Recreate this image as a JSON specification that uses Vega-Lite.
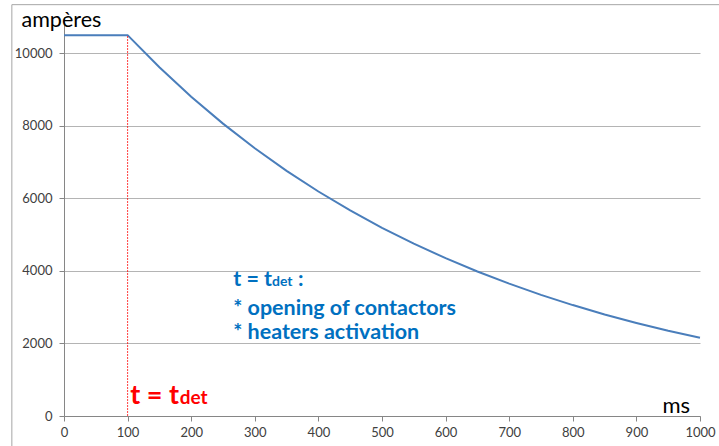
{
  "$schema": "https://vega.github.io/schema/vega-lite/v6.json",
  "width": 636,
  "height": 399,
  "autosize": "none",
  "padding": {"left": 64, "top": 17, "right": 19, "bottom": 30},
  "background": "white",
  "config": {"view": {"stroke": null}},
  "layer": [
    {
      "data": {"values": [{"x1": -82, "x2": 1300, "y1": -2000, "y2": 11340}]},
      "mark": {"type": "rect", "filled": false, "stroke": "#a6a6a6", "strokeWidth": 1, "clip": false},
      "encoding": {
        "x": {"field": "x1", "type": "quantitative", "scale": {"domain": [0, 1000]}},
        "x2": {"field": "x2"},
        "y": {"field": "y1", "type": "quantitative", "scale": {"domain": [0, 11000]}},
        "y2": {"field": "y2"}
      }
    },
    {
      "data": {"values": [
        {"t": 0, "a": 10500}, {"t": 50, "a": 10500}, {"t": 100, "a": 10500},
        {"t": 150, "a": 9615}, {"t": 200, "a": 8803}, {"t": 250, "a": 8061},
        {"t": 300, "a": 7381}, {"t": 350, "a": 6759}, {"t": 400, "a": 6189},
        {"t": 450, "a": 5667}, {"t": 500, "a": 5189}, {"t": 550, "a": 4751},
        {"t": 600, "a": 4351}, {"t": 650, "a": 3984}, {"t": 700, "a": 3648},
        {"t": 750, "a": 3340}, {"t": 800, "a": 3058}, {"t": 850, "a": 2800},
        {"t": 900, "a": 2564}, {"t": 950, "a": 2348}, {"t": 1000, "a": 2160}
      ]},
      "mark": {"type": "line", "color": "#4a7ebb", "strokeWidth": 2},
      "encoding": {
        "x": {
          "field": "t", "type": "quantitative",
          "scale": {"domain": [0, 1000], "nice": false, "zero": false},
          "axis": {
            "values": [0, 100, 200, 300, 400, 500, 600, 700, 800, 900, 1000],
            "format": "d",
            "grid": false,
            "domainColor": "#868686", "tickColor": "#868686", "tickSize": 5,
            "labelFont": "Lato", "labelFontSize": 13, "labelColor": "#404040",
            "labelPadding": 5, "labelFlush": false,
            "title": "ms", "titleFont": "Lato", "titleFontSize": 22, "titleFontWeight": "normal",
            "titleColor": "#000000", "titleAnchor": null, "titleAlign": "left", "titleBaseline": "alphabetic",
            "titleX": 598, "titleY": -4
          }
        },
        "y": {
          "field": "a", "type": "quantitative",
          "scale": {"domain": [0, 11000], "nice": false},
          "axis": {
            "values": [0, 2000, 4000, 6000, 8000, 10000],
            "format": "d",
            "grid": true, "gridColor": "#b4b4b4", "gridWidth": 1,
            "domainColor": "#868686", "tickColor": "#868686", "tickSize": 5,
            "labelFont": "Lato", "labelFontSize": 13, "labelColor": "#404040",
            "labelPadding": 7,
            "title": "ampères", "titleFont": "Lato", "titleFontSize": 21.5, "titleFontWeight": "normal",
            "titleColor": "#000000", "titleAngle": 0, "titleAnchor": null, "titleAlign": "left",
            "titleBaseline": "alphabetic", "titleX": -43, "titleY": 9
          }
        }
      }
    },
    {
      "data": {"values": [{"t": 100, "a0": 0, "a1": 10500}]},
      "mark": {"type": "rule", "color": "#ff0000", "opacity": 0.75, "strokeWidth": 1, "strokeDash": [2, 1]},
      "encoding": {
        "x": {"field": "t", "type": "quantitative"},
        "y": {"field": "a0", "type": "quantitative"},
        "y2": {"field": "a1"}
      }
    },
    {
      "data": {"values": [{"t": 104, "a": 331, "label": "t = t"}]},
      "mark": {"type": "text", "font": "Lato", "fontSize": 27, "fontWeight": "bold", "color": "#ff0000", "align": "left", "baseline": "alphabetic"},
      "encoding": {
        "x": {"field": "t", "type": "quantitative"},
        "y": {"field": "a", "type": "quantitative"},
        "text": {"field": "label"}
      }
    },
    {
      "data": {"values": [{"t": 182, "a": 331, "label": "det"}]},
      "mark": {"type": "text", "font": "Lato", "fontSize": 19, "fontWeight": "bold", "color": "#ff0000", "align": "left", "baseline": "alphabetic"},
      "encoding": {
        "x": {"field": "t", "type": "quantitative"},
        "y": {"field": "a", "type": "quantitative"},
        "text": {"field": "label"}
      }
    },
    {
      "data": {"values": [
        {"t": 266, "a": 3586, "label": "t = t"},
        {"t": 266, "a": 2786, "label": "* opening of contactors"},
        {"t": 266, "a": 2124, "label": "* heaters activation"},
        {"t": 368, "a": 3586, "label": ":"}
      ]},
      "mark": {"type": "text", "font": "Lato", "fontSize": 21.5, "fontWeight": "bold", "color": "#0070c0", "align": "left", "baseline": "alphabetic"},
      "encoding": {
        "x": {"field": "t", "type": "quantitative"},
        "y": {"field": "a", "type": "quantitative"},
        "text": {"field": "label"}
      }
    },
    {
      "data": {"values": [{"t": 327, "a": 3586, "label": "det"}]},
      "mark": {"type": "text", "font": "Lato", "fontSize": 14, "fontWeight": "bold", "color": "#0070c0", "align": "left", "baseline": "alphabetic"},
      "encoding": {
        "x": {"field": "t", "type": "quantitative"},
        "y": {"field": "a", "type": "quantitative"},
        "text": {"field": "label"}
      }
    }
  ]
}
